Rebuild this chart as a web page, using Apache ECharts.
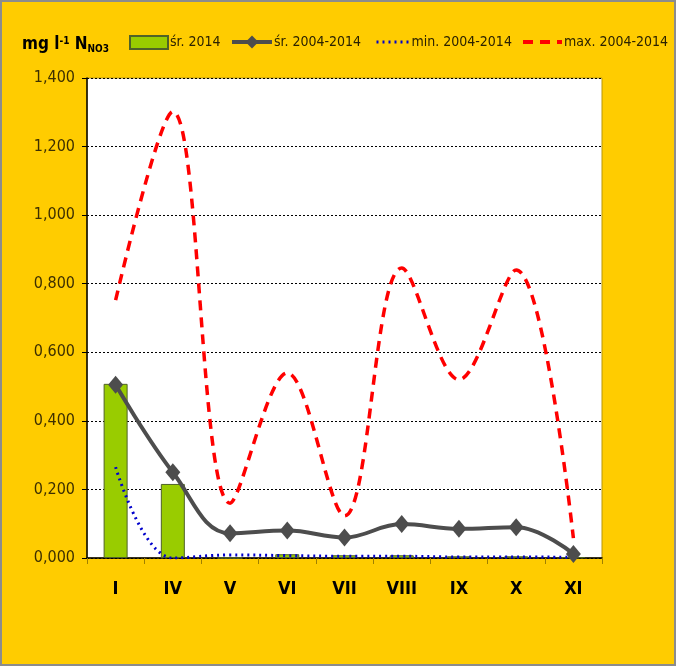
<!DOCTYPE html>
<html>
<head>
<meta charset="utf-8">
<script src="https://cdn.jsdelivr.net/npm/echarts@6/dist/echarts.min.js"></script>
<style>
  html, body { margin: 0; padding: 0; background: #ffcc00; }
  #chart { width: 676px; height: 666px; box-sizing: border-box; border: 2px solid #8c8c8c; }
</style>
</head>
<body>
<div id="chart"></div>
<script>
// miesiące
var months = ['I', 'IV', 'V', 'VI', 'VII', 'VIII', 'IX', 'X', 'XI'];
// śr. 2014 (słupki)
var avg2014 = [0.508, 0.216, 0, 0.011, 0.008, 0.008, 0.005, 0.005, 0.002];
// śr. 2004-2014
var avgAll = [0.505, 0.250, 0.072, 0.080, 0.060, 0.099, 0.085, 0.090, 0.012];
// min. 2004-2014
var minAll = [0.265, 0.000, 0.009, 0.007, 0.005, 0.005, 0.003, 0.003, 0.002];
// max. 2004-2014
var maxAll = [0.752, 1.302, 0.160, 0.540, 0.123, 0.846, 0.520, 0.840, 0.058];

var font = "'Liberation Sans Narrow', 'DejaVu Sans Condensed', sans-serif";
var myChart = echarts.init(document.getElementById('chart'));

// jedna legenda na serię, żeby trzymać pozycje z oryginału
function legendFor(item, left, w, h) {
  return {
    data: [item],
    left: left,
    top: 33,
    itemWidth: w,
    itemHeight: h,
    itemGap: 0,
    padding: 0,
    textStyle: { fontFamily: font, fontSize: 14, color: '#2b2200', padding: [0, 0, 0, -3] }
  };
}

var option = {
  backgroundColor: '#ffcc00',
  animation: false,
  title: {
    left: 15,
    top: 29,
    text: '{a|mg l}{sup|-1}{a| N}{sub|NO3}',
    textStyle: {
      rich: {
        a: { fontFamily: font, fontSize: 17, fontWeight: 'bold', color: '#000' },
        sup: { fontFamily: font, fontSize: 10, fontWeight: 'bold', color: '#000', padding: [0, 0, 8, 0] },
        sub: { fontFamily: font, fontSize: 10, fontWeight: 'bold', color: '#000', padding: [8, 0, 0, 0] }
      }
    }
  },
  legend: [
    legendFor({ name: 'śr. 2014', icon: 'rect' }, 127, 38, 13),
    legendFor({ name: 'śr. 2004-2014', lineStyle: { width: 4 } }, 228, 40, 16),
    legendFor({ name: 'min. 2004-2014', itemStyle: { opacity: 0 }, lineStyle: { width: 3 } }, 373, 33, 13),
    legendFor({ name: 'max. 2004-2014', itemStyle: { opacity: 0 }, lineStyle: { width: 4 } }, 519, 39, 13)
  ],
  grid: {
    left: 85, right: 72, top: 76, bottom: 106,
    show: true, backgroundColor: '#ffffff', borderColor: '#b8960a', borderWidth: 1
  },
  xAxis: {
    type: 'category',
    data: months,
    boundaryGap: true,
    axisLine: { lineStyle: { color: '#000', width: 1.5 } },
    axisTick: { show: true, length: 6, lineStyle: { color: '#a08000' } },
    axisLabel: { fontFamily: font, fontSize: 18, fontWeight: 'bold', color: '#000', margin: 22 }
  },
  yAxis: {
    type: 'value',
    min: 0, max: 1.4, interval: 0.2,
    axisLine: { show: true, lineStyle: { color: '#000', width: 1.5 } },
    axisTick: { show: true, length: 5, lineStyle: { color: '#000' } },
    axisLabel: {
      fontFamily: font, fontSize: 16, color: '#3d2f00', margin: 12,
      formatter: function (v) { return v.toFixed(3).replace('.', ','); }
    },
    splitLine: { lineStyle: { color: '#000', type: [2, 2], width: 1 } }
  },
  series: [
    {
      name: 'śr. 2014',
      type: 'bar',
      data: avg2014,
      barWidth: 24,
      itemStyle: { color: '#99cc00', borderColor: '#4f6228', borderWidth: 1 }
    },
    {
      name: 'max. 2004-2014',
      type: 'line',
      data: maxAll,
      smooth: 0.35,
      symbol: 'none',
      itemStyle: { color: '#ff0000' },
      lineStyle: { color: '#ff0000', width: 3.5, type: [10, 7] },
      z: 3
    },
    {
      name: 'min. 2004-2014',
      type: 'line',
      data: minAll,
      smooth: 0.4,
      symbol: 'none',
      itemStyle: { color: '#0000cc' },
      lineStyle: { color: '#0000cc', width: 3, type: [2, 4] },
      z: 4
    },
    {
      name: 'śr. 2004-2014',
      type: 'line',
      data: avgAll,
      smooth: 0.4,
      symbol: 'diamond',
      symbolSize: [15, 18],
      itemStyle: { color: '#4d4d4d' },
      lineStyle: { color: '#4d4d4d', width: 4 },
      z: 5
    }
  ]
};
myChart.setOption(option);
</script>
</body>
</html>
